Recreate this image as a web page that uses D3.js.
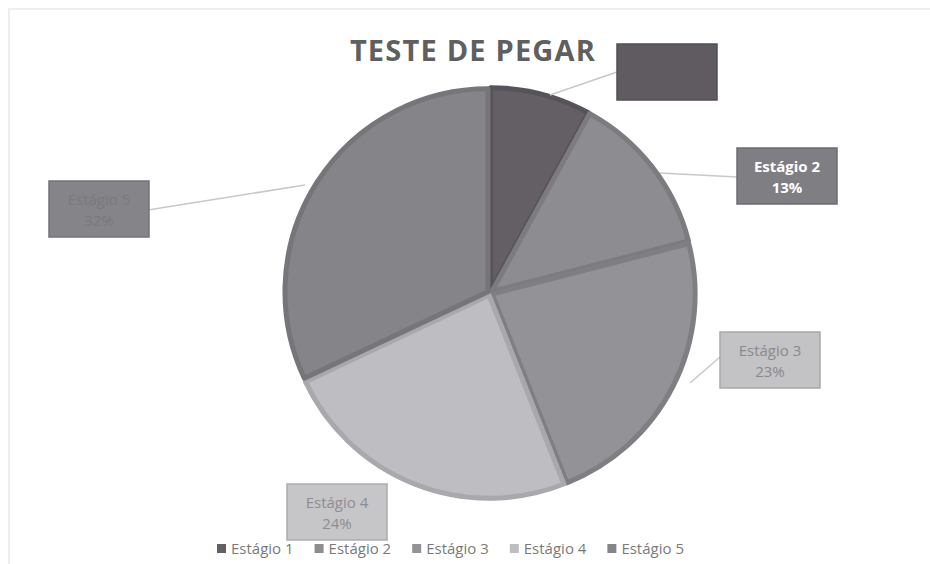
<!DOCTYPE html>
<html>
<head>
<meta charset="utf-8">
<script src="https://cdn.jsdelivr.net/npm/d3@7"></script>
<style>
  body { margin: 0; background: #fff; }
  text { font-family: "Open Sans", "Liberation Sans", sans-serif; }
</style>
</head>
<body>
<svg width="930" height="564"></svg>
<script>
const categories = ["Estágio 1", "Estágio 2", "Estágio 3", "Estágio 4", "Estágio 5"]
const values = [8, 13, 23, 24, 32]
const fills = ["#635f65", "#8d8c91", "#939297", "#bebdc2", "#858489"]
const edges = ["#57535a", "#7c7b80", "#7f7e83", "#a9a8ad", "#76757a"]
const boxFills = ["#5f5b61", "#7f7e82", "#c3c2c5", "#c6c5c8", "#858488"]
const boxText = ["#5f5b61", "#ffffff", "#8a898d", "#8e8d91", "#7a797d"]

const svg = d3.select("svg")

// outer frame
svg.append("rect")
    .attr("x", 9).attr("y", 9)
    .attr("width", 930).attr("height", 560)
    .style("fill", "none")
    .style("stroke", "#eeeeee")
    .style("stroke-width", 2)

svg.append("text")
    .attr("x", 473).attr("y", 61)
    .style("text-anchor", "middle")
    .style("font-size", "29px")
    .style("font-weight", "bold")
    .style("letter-spacing", "1.2px")
    .style("fill", "#5f5f5f")
    .text("TESTE DE PEGAR")

const cx = 490, cy = 293, r = 203
const pie = d3.pie().sort(null)(values)
const arc = d3.arc().innerRadius(0).outerRadius(r)

const g = svg.append("g").attr("transform", `translate(${cx},${cy})`)

g.selectAll("path.slice")
    .data(pie)
    .enter()
    .append("path")
    .attr("class", "slice")
    .attr("transform", d => {
        const [x, y] = d3.arc().innerRadius(0).outerRadius(8).centroid(d)
        return `translate(${x * 0.6},${y * 0.6})`
    })
    .attr("d", arc)
    .style("fill", (d, i) => fills[i])
    .style("stroke", (d, i) => edges[i])
    .style("stroke-width", 5)
    .style("stroke-linejoin", "round")

// label box positions (box centre) and leader line anchors
const boxPos = [[667, 72], [787, 176], [770, 360], [337, 512], [99, 209]]
const lineFrom = [[550, 95], [660, 173], [690, 383], null, [305, 185]]
const lineTo = [[617, 72], [737, 177], [720, 357], null, [148, 210]]

categories.forEach((c, i) => {
    if (lineFrom[i]) {
        svg.append("line")
            .attr("x1", lineFrom[i][0]).attr("y1", lineFrom[i][1])
            .attr("x2", lineTo[i][0]).attr("y2", lineTo[i][1])
            .style("stroke", "#c8c8c8")
            .style("stroke-width", 1.5)
    }
    const lb = svg.append("g").attr("transform", `translate(${boxPos[i][0]},${boxPos[i][1]})`)
    lb.append("rect")
        .attr("x", -50).attr("y", -28)
        .attr("width", 100).attr("height", 56)
        .style("fill", boxFills[i])
        .style("stroke", d3.color(boxFills[i]).darker(0.4))
        .style("stroke-width", 1.5)
    lb.append("text")
        .attr("y", -4)
        .style("text-anchor", "middle")
        .style("font-size", "15px")
        .style("font-weight", i === 1 ? "bold" : "normal")
        .style("fill", boxText[i])
        .text(c)
    lb.append("text")
        .attr("y", 17)
        .style("text-anchor", "middle")
        .style("font-size", "15px")
        .style("font-weight", i === 1 ? "bold" : "normal")
        .style("fill", boxText[i])
        .text(values[i] + "%")
})

// legend
const legend = svg.append("g").attr("transform", "translate(217,549)")
let lx = 0
categories.forEach((c, i) => {
    const item = legend.append("g").attr("transform", `translate(${lx},0)`)
    item.append("rect")
        .attr("x", 0).attr("y", -5)
        .attr("width", 9).attr("height", 9)
        .style("fill", fills[i])
    const t = item.append("text")
        .attr("x", 14).attr("y", 5)
        .style("font-size", "15px")
        .style("fill", "#7a7a7a")
        .text(c)
    lx += 14 + t.node().getComputedTextLength() + 21
})
</script>
</body>
</html>
